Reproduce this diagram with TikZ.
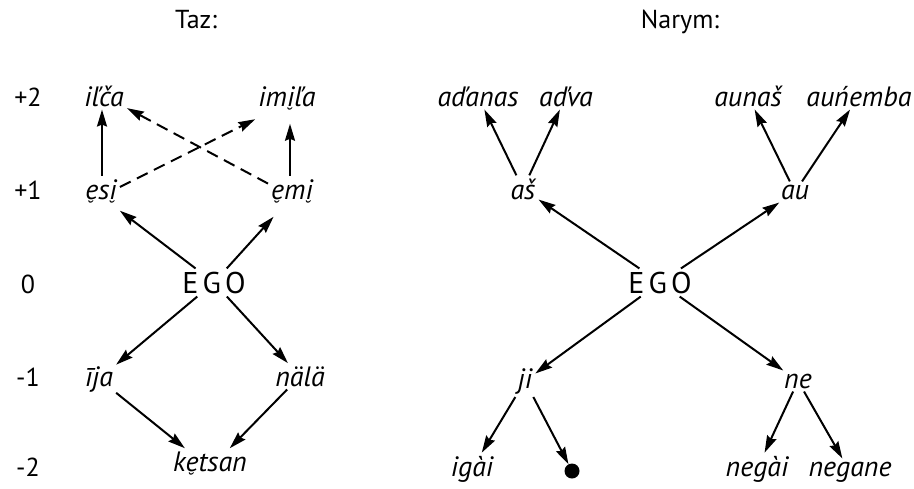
\documentclass[tikz,border=0pt]{standalone}
\usepackage{fontspec}
\setmainfont{PT Sans}
\usetikzlibrary{arrows.meta}
\newcommand\ubr[1]{\ooalign{#1\cr\hidewidth\raisebox{-0.52em}{\kern-0.2em\fontsize{18}{18}\selectfont ˘}\hidewidth\cr}}
\tikzset{
  lab/.style={font=\fontsize{28}{28}\selectfont\itshape, inner sep=3pt, anchor=base},
  up/.style={font=\fontsize{26}{26}\selectfont, inner sep=2pt, anchor=base},
  ego/.style={font=\fontsize{30}{30}\selectfont\addfontfeature{LetterSpace=14}, inner sep=3pt, anchor=base},
  arr/.style={-{Stealth[length=17pt,width=10pt,inset=2pt]}, line width=2pt},
  dsh/.style={arr, dash pattern=on 12pt off 7pt},
}
\begin{document}
\begin{tikzpicture}[x=1pt,y=-1pt]
\useasboundingbox (0,0) rectangle (914,488);
% headers
\node[up] (hT) at (196,28) {Taz:};
\node[up] (hN) at (680,28) {Narym:};
% row labels
\node[up] (r1) at (28,106) {+2};
\node[up] (r2) at (28,199) {+1};
\node[up] (r3) at (28,293) {0};
\node[up] (r4) at (28,386) {-1};
\node[up] (r5) at (28,476) {-2};
% Taz
\node[lab] (ilca) at (104,106) {iľča};
\node[lab] (imila) at (287,106) {im\ubr{i}ľa};
\node[lab] (esi) at (101,199) {\ubr{e}s\ubr{i}};
\node[lab] (emi) at (292,199) {\ubr{e}m\ubr{i}};
\node[ego] (egoT) at (214,293) {EGO};
\node[lab] (ija) at (99,386) {īja};
\node[lab] (nala) at (300,386) {nälä};
\node[lab] (ketsan) at (210,471) {k\ubr{e}tsan};
\draw[arr] (egoT) -- (esi);
\draw[arr] (egoT) -- (emi);
\draw[arr] (egoT) -- (ija);
\draw[arr] (egoT) -- (nala);
\draw[arr] ([xshift=1pt]esi.north) -- ([xshift=1pt]esi.north |- ilca.south);
\draw[arr] ([xshift=-2pt]emi.north) -- ([xshift=-2pt]emi.north |- imila.south);
\draw[dsh] (esi) -- (imila);
\draw[dsh] (emi) -- (ilca);
\draw[arr] (ija) -- (ketsan);
\draw[arr] (nala) -- (ketsan);
% Narym
\node[lab] (adanas) at (478,106) {aďanas};
\node[lab] (adva) at (566,106) {aďva};
\node[lab] (as) at (523,199) {aš};
\node[lab] (aunas) at (748,106) {aunaš};
\node[lab] (aunemba) at (859,106) {auńemba};
\node[lab] (au) at (795,199) {au};
\node[ego] (egoN) at (660,293) {EGO};
\node[lab] (ji) at (525,388) {ji};
\node[lab] (ne) at (798,388) {ne};
\node[lab] (igai) at (472,476) {igài};
\node[circle, fill, inner sep=0pt, minimum size=15pt] (dot) at (572,471) {};
\node[lab] (negai) at (757,476) {negài};
\node[lab] (negane) at (850,476) {negane};
\draw[arr] (egoN) -- (as);
\draw[arr] (egoN) -- (au);
\draw[arr] (egoN) -- (ji);
\draw[arr] (egoN) -- (ne);
\draw[arr] (as) -- (adanas);
\draw[arr] (as) -- (adva);
\draw[arr] (au) -- (aunas);
\draw[arr] (au) -- (aunemba);
\draw[arr] (ji) -- (igai);
\draw[arr] (ji) -- (dot);
\draw[arr] (ne) -- (negai);
\draw[arr] (ne) -- (negane);
\end{tikzpicture}
\end{document}
